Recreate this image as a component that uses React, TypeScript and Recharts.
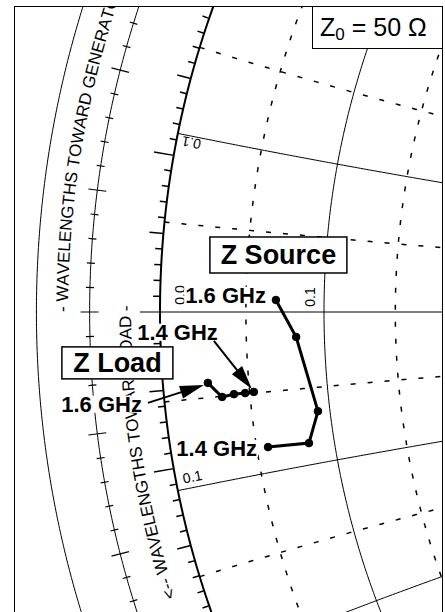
import React from 'react';
import { ComposedChart, Line, Scatter, XAxis, YAxis } from 'recharts';

// ---------------- data ----------------
const Z0_OHMS = 50;
const frequenciesGHz = [1.4, 1.45, 1.5, 1.55, 1.6];
// source impedance (ohms), same order as frequenciesGHz
const sourceR = [2.85, 4.16, 4.6, 4.07, 3.43];
const sourceX = [-4.21, -4.29, -3.29, -0.81, 0.38];
// load impedance (ohms)
const loadR = [2.63, 2.36, 2.02, 1.66, 1.28];
const loadX = [-2.46, -2.47, -2.47, -2.52, -2.07];

// Smith-chart grid (normalised values)
const solidResistance = [0.1];
const dashedResistance = [0.05, 0.15];
const solidReactance = [0.1, -0.1, 0.2, -0.2];
const dashedReactance = [0.05, -0.05, 0.15, -0.15];

const generatorText = '- WAVELENGTHS TOWARD GENERATOR -';
const loadText = '<-- WAVELENGTHS TOWARD LOAD -';
const z0Label = '50 Ω';

// ---------------- geometry helpers ----------------
const W = 445;
const H = 612;
const X_DOMAIN: [number, number] = [-1.17738, -0.68404];
const Y_DOMAIN: [number, number] = [-0.33259, 0.3459];
const PPU = W / (X_DOMAIN[1] - X_DOMAIN[0]); // pixels per unit of reflection coefficient
const FONT = '"Liberation Sans", Arial, Helvetica, sans-serif';
const D2R = Math.PI / 180;

const gamma = (r: number, x: number) => {
  const d = (r + 1) * (r + 1) + x * x;
  return { gx: (r * r - 1 + x * x) / d, gy: (2 * x) / d };
};

const resistanceArc = (r: number) => {
  const c = r / (1 + r);
  const rho = 1 / (1 + r);
  const pts = [];
  for (let t = 100; t <= 260; t += 0.25) pts.push({ gx: c + rho * Math.cos(t * D2R), gy: rho * Math.sin(t * D2R) });
  return pts;
};

const reactanceArc = (x: number) => {
  const pts = [];
  for (let r = 0; r <= 0.8; r += 0.002) pts.push(gamma(r, x));
  return pts;
};

const ring = (R: number) => {
  const pts = [];
  for (let t = 150; t <= 210; t += 0.2) pts.push({ gx: R * Math.cos(t * D2R), gy: R * Math.sin(t * D2R) });
  return pts;
};

const tickSeries = (ticks: { deg: number; r0: number; r1: number }[]) => {
  const pts: { gx: number; gy: number | null }[] = [];
  ticks.forEach(({ deg, r0, r1 }) => {
    const c = Math.cos(deg * D2R);
    const s = Math.sin(deg * D2R);
    pts.push({ gx: r0 * c, gy: r0 * s });
    pts.push({ gx: r1 * c, gy: r1 * s });
    pts.push({ gx: r1 * c, gy: null });
  });
  return pts;
};

const BOUNDARY = 1;
const RING_MID = 1.078;
const RING_OUT = 1.137;

// wavelength-scale ticks every 0.002 lambda on the middle ring
const midTicks = [] as { deg: number; r0: number; r1: number }[];
for (let k = -16; k <= 16; k++) {
  const half = (k % 5 === 0 ? 9 : 4) / PPU;
  midTicks.push({ deg: 180 + k * 1.44, r0: RING_MID - half, r1: RING_MID + half });
}
// angle ticks every degree on the outside of the boundary
const boundaryTicks = [] as { deg: number; r0: number; r1: number }[];
for (let d = -24; d <= 24; d++) {
  if (d === 0) continue;
  const len = (d % 10 === 0 ? 20 : d % 5 === 0 ? 14 : 7) / PPU;
  boundaryTicks.push({ deg: 180 + d, r0: BOUNDARY, r1: BOUNDARY + len });
}

// text along the wavelength rings (Arial advance widths /1000 em)
const AW: Record<string, number> = {
  ' ': 278, '-': 333, '<': 584, A: 667, D: 722, E: 667, G: 778, H: 722, L: 556, N: 722,
  O: 778, R: 722, S: 667, T: 611, V: 667, W: 944,
};
const ARC_FONT = 17;
const arcText = (text: string, R: number, deg: number, anchor: 'start' | 'end') => {
  const widths = text.split('').map((c) => ((AW[c] ?? 600) * ARC_FONT) / 1000);
  const total = widths.reduce((a, b) => a + b, 0);
  const radPerPx = 1 / (PPU * R);
  let th0 = deg * D2R;
  if (anchor === 'end') th0 += total * radPerPx;
  let cum = 0;
  return text.split('').map((ch, i) => {
    const th = th0 - (cum + widths[i] / 2) * radPerPx;
    cum += widths[i];
    return { gx: R * Math.cos(th), gy: R * Math.sin(th), ch, rot: Math.atan2(Math.cos(th), Math.sin(th)) / D2R };
  });
};
const generatorChars = arcText(generatorText, 1.108, 180, 'start');
const loadChars = arcText(loadText, 1.038, 179.6, 'end');

const sourcePts = frequenciesGHz.map((f, i) => ({ f, ...gamma(sourceR[i] / Z0_OHMS, sourceX[i] / Z0_OHMS) }));
const loadPts = frequenciesGHz.map((f, i) => ({ f, ...gamma(loadR[i] / Z0_OHMS, loadX[i] / Z0_OHMS) }));
const lastIdx = frequenciesGHz.length - 1;
const fmtGHz = (f: number) => `${f.toFixed(1)} GHz`;

// ---------------- shapes ----------------
const CharShape = (p: any) => {
  const { cx, cy, payload } = p;
  if (!payload || payload.ch === ' ') return <g />;
  return (
    <text x={cx} y={cy} transform={`rotate(${payload.rot} ${cx} ${cy})`} textAnchor="middle"
      dominantBaseline="central" fontSize={ARC_FONT} fontFamily={FONT} fill="#000">
      {payload.ch}
    </text>
  );
};

const BOLD_W: Record<string, number> = { '1': 556, '.': 278, '4': 556, '6': 556, ' ': 278, G: 778, H: 722, z: 500 };
const GHZ_FONT = 22;
const ghzWidth = (t: string) => t.split('').reduce((a, c) => a + (BOLD_W[c] ?? 556), 0) * GHZ_FONT / 1000;

const GhzText = ({ x, y, text }: { x: number; y: number; text: string }) => {
  const w = ghzWidth(text);
  return (
    <g>
      <rect x={x - w - 1} y={y - GHZ_FONT * 0.74} width={w + 2} height={GHZ_FONT * 0.78} fill="#fff" />
      <text x={x} y={y} textAnchor="end" fontSize={GHZ_FONT} fontWeight="bold" fontFamily={FONT} fill="#000">{text}</text>
    </g>
  );
};

const Arrow = ({ x1, y1, x2, y2 }: { x1: number; y1: number; x2: number; y2: number }) => {
  const dx = x2 - x1;
  const dy = y2 - y1;
  const L = Math.hypot(dx, dy);
  const ux = dx / L;
  const uy = dy / L;
  const hl = 24;
  const hw = 6.5;
  const bx = x2 - ux * hl;
  const by = y2 - uy * hl;
  return (
    <g>
      <line x1={x1} y1={y1} x2={bx + ux * 2} y2={by + uy * 2} stroke="#000" strokeWidth={2} />
      <polygon points={`${x2},${y2} ${bx - uy * hw},${by + ux * hw} ${bx + uy * hw},${by - ux * hw}`} fill="#000" />
    </g>
  );
};

const BoxLabel = ({ cx, cy, w, h, text }: { cx: number; cy: number; w: number; h: number; text: string }) => (
  <g>
    <rect x={cx - w / 2} y={cy - h / 2} width={w} height={h} fill="#fff" stroke="#000" strokeWidth={1.5} />
    <text x={cx} y={cy + 9.5} textAnchor="middle" fontSize={27} fontWeight="bold" fontFamily={FONT} fill="#000">{text}</text>
  </g>
);

const SourceHighAnnot = (p: any) => (
  <g>
    <BoxLabel cx={p.cx + 2.5} cy={p.cy - 45} w={137} h={36} text="Z Source" />
    <GhzText x={p.cx - 10} y={p.cy + 3} text={fmtGHz(p.payload.f)} />
  </g>
);
const SourceLowAnnot = (p: any) => <GhzText x={p.cx - 11} y={p.cy + 9} text={fmtGHz(p.payload.f)} />;
const LoadHighAnnot = (p: any) => (
  <g>
    <BoxLabel cx={p.cx - 90.5} cy={p.cy - 20} w={111} h={32} text="Z Load" />
    <GhzText x={p.cx - 66} y={p.cy + 29} text={fmtGHz(p.payload.f)} />
    <Arrow x1={p.cx - 60} y1={p.cy + 20} x2={p.cx - 4} y2={p.cy + 2} />
  </g>
);
const LoadLowAnnot = (p: any) => (
  <g>
    <GhzText x={p.cx - 36} y={p.cy - 52} text={fmtGHz(p.payload.f)} />
    <Arrow x1={p.cx - 40} y1={p.cy - 51} x2={p.cx - 2} y2={p.cy - 3} />
  </g>
);

const GridLabel = (p: any) => {
  const { cx, cy, payload } = p;
  const x = cx + payload.dx;
  const y = cy + payload.dy;
  return (
    <text x={x} y={y} transform={`rotate(${payload.rot} ${x} ${y})`} textAnchor="middle" dominantBaseline="central"
      fontSize={14} fontFamily={FONT} fill="#000">{payload.text}</text>
  );
};
const gridLabels = [
  { ...gamma(0.1, 0), text: '0.1', dx: -14, dy: -15, rot: -90 },
  { ...gamma(0, 0), text: '0.0', dx: 20, dy: -17, rot: -90 },
  { ...gamma(0, 0.1), text: '0.1', dx: 13.5, dy: 9.5, rot: 191 },
  { ...gamma(0, -0.1), text: '0.1', dx: 14.5, dy: -14, rot: -11 },
];

const realAxis = [{ gx: -1.0222, gy: 0 }, { gx: -0.5, gy: 0 }];

const lineCommon = { dataKey: 'gy', dot: false, activeDot: false, isAnimationActive: false, type: 'linear' as const, legendType: 'none' as const };

export default function App() {
  return (
    <div style={{ position: 'absolute', left: 0, top: 0, width: W, height: H, background: '#fff', overflow: 'hidden' }}>
      <div style={{ position: 'absolute', left: 14, top: 6, width: 428, height: 606, overflow: 'hidden' }}>
        <div style={{ position: 'absolute', left: -14, top: -6 }}>
          <ComposedChart width={W} height={H} margin={{ top: 0, right: 0, bottom: 0, left: 0 }}>
            <XAxis type="number" dataKey="gx" domain={X_DOMAIN} hide allowDataOverflow />
            <YAxis type="number" dataKey="gy" domain={Y_DOMAIN} hide allowDataOverflow />
            {dashedResistance.map((r) => (
              <Line key={`dr${r}`} {...lineCommon} data={resistanceArc(r)} stroke="#000" strokeWidth={1.5} strokeDasharray="5 12" />
            ))}
            {dashedReactance.map((x) => (
              <Line key={`dx${x}`} {...lineCommon} data={reactanceArc(x)} stroke="#000" strokeWidth={1.5} strokeDasharray="5 12" />
            ))}
            {solidResistance.map((r) => (
              <Line key={`sr${r}`} {...lineCommon} data={resistanceArc(r)} stroke="#000" strokeWidth={1} />
            ))}
            {solidReactance.map((x) => (
              <Line key={`sx${x}`} {...lineCommon} data={reactanceArc(x)} stroke="#000" strokeWidth={1} />
            ))}
            <Line {...lineCommon} data={realAxis} stroke="#000" strokeWidth={1} />
            <Line {...lineCommon} data={ring(BOUNDARY)} stroke="#000" strokeWidth={2} />
            <Line {...lineCommon} data={ring(RING_MID)} stroke="#000" strokeWidth={1} />
            <Line {...lineCommon} data={ring(RING_OUT)} stroke="#000" strokeWidth={1} />
            <Line {...lineCommon} data={tickSeries(midTicks)} stroke="#000" strokeWidth={1.2} connectNulls={false} />
            <Line {...lineCommon} data={tickSeries(boundaryTicks)} stroke="#000" strokeWidth={1.5} connectNulls={false} />
            <Scatter data={generatorChars} dataKey="gy" shape={CharShape} isAnimationActive={false} />
            <Scatter data={loadChars} dataKey="gy" shape={CharShape} isAnimationActive={false} />
            <Scatter data={gridLabels} dataKey="gy" shape={GridLabel} isAnimationActive={false} />
            <Line dataKey="gy" data={sourcePts} type="linear" stroke="#000" strokeWidth={3} isAnimationActive={false}
              dot={{ r: 3.8, fill: '#000', stroke: '#000', strokeWidth: 1 }} activeDot={false} />
            <Line dataKey="gy" data={loadPts} type="linear" stroke="#000" strokeWidth={3} isAnimationActive={false}
              dot={{ r: 3.8, fill: '#000', stroke: '#000', strokeWidth: 1 }} activeDot={false} />
            <Scatter data={[sourcePts[lastIdx]]} dataKey="gy" shape={SourceHighAnnot} isAnimationActive={false} />
            <Scatter data={[sourcePts[0]]} dataKey="gy" shape={SourceLowAnnot} isAnimationActive={false} />
            <Scatter data={[loadPts[lastIdx]]} dataKey="gy" shape={LoadHighAnnot} isAnimationActive={false} />
            <Scatter data={[loadPts[0]]} dataKey="gy" shape={LoadLowAnnot} isAnimationActive={false} />
          </ComposedChart>
        </div>
      </div>
      <div style={{ position: 'absolute', left: 14, top: 6, width: 429, height: 606, boxSizing: 'border-box',
        borderLeft: '1px solid #000', borderTop: '1px solid #000', borderRight: '1px solid #000', pointerEvents: 'none' }} />
      <div style={{ position: 'absolute', left: 312, top: 6, width: 131, height: 43, boxSizing: 'border-box',
        border: '1px solid #000', background: '#fff', fontFamily: FONT, fontSize: 25, color: '#000',
        display: 'flex', alignItems: 'center', paddingLeft: 7, whiteSpace: 'nowrap' }}>
        <span>Z</span>
        <span style={{ fontSize: 17, position: 'relative', top: 7 }}>0</span>
        <span>&nbsp;=&nbsp;{z0Label}</span>
      </div>
    </div>
  );
}
